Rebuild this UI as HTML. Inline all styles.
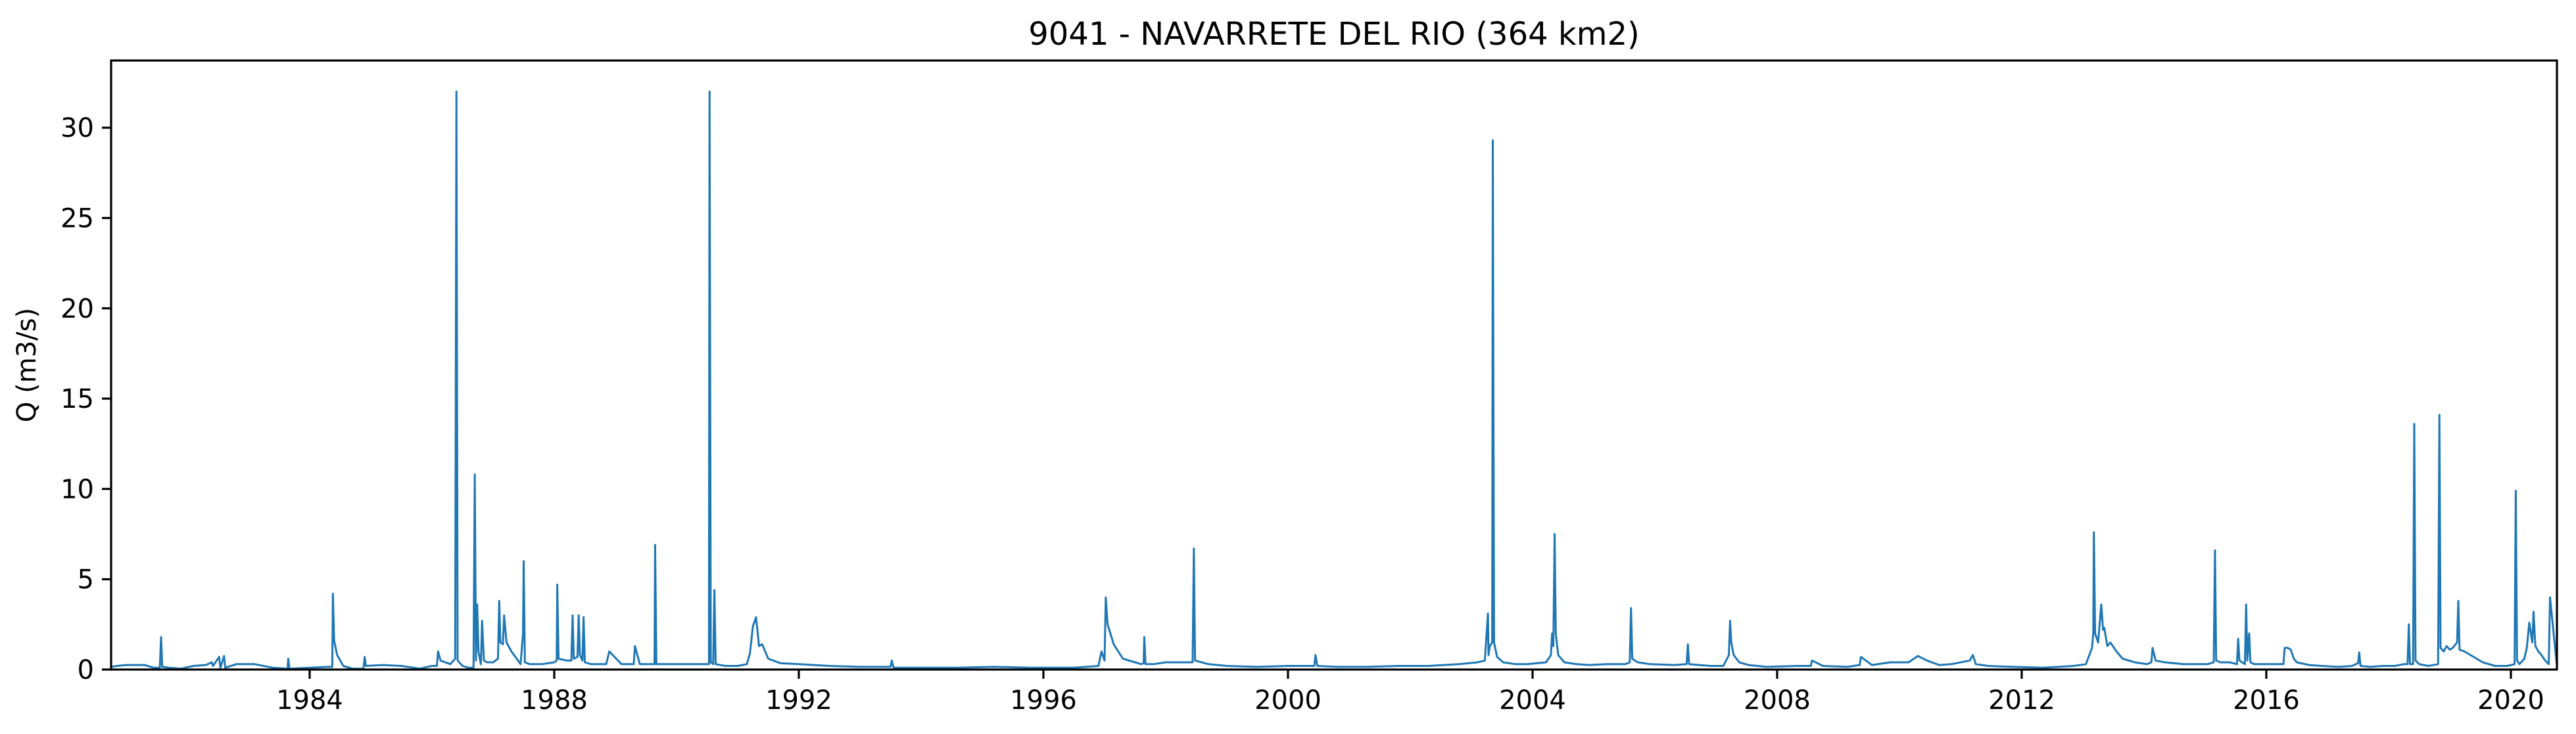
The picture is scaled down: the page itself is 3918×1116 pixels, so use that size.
<!DOCTYPE html>
<html><head><meta charset="utf-8">
<style>
html,body{margin:0;padding:0;background:#fff;}
svg{display:block;font-family:"DejaVu Sans","Liberation Sans",sans-serif;}
</style></head>
<body>
<svg id="chart" width="3918" height="1116" viewBox="0 0 3918 1116" xmlns="http://www.w3.org/2000/svg">
<rect width="3918" height="1116" fill="#fff"/>
<text x="2029" y="68" font-size="48" text-anchor="middle">9041 - NAVARRETE DEL RIO (364 km2)</text>
<text transform="translate(54,555) rotate(-90)" font-size="40" text-anchor="middle">Q (m3/s)</text>
<g id="plot"></g>
<g id="axes"></g>
</svg>
<script>
const xTicks = [1984, 1988, 1992, 1996, 2000, 2004, 2008, 2012, 2016, 2020];
const yTicks = [0, 5, 10, 15, 20, 25, 30];
const dates = [
1980.75,1980.85,1981.0,1981.3,1981.45,
1981.55,1981.57,1981.59,1981.7,1981.9,
1982.1,1982.3,1982.4,1982.42,1982.52,1982.54,1982.6,1982.62,1982.8,
1983.1,1983.4,1983.64,1983.65,1983.67,1984.0,1984.3,
1984.37,1984.38,1984.4,1984.45,1984.55,1984.7,
1984.88,1984.9,1984.92,1985.2,1985.5,1985.8,1986.0,
1986.08,1986.1,1986.14,1986.3,1986.38,1986.4,1986.42,1986.5,1986.6,
1986.68,1986.7,1986.72,1986.74,1986.76,1986.8,1986.82,1986.85,1986.9,1987.0,
1987.08,1987.1,1987.12,1987.16,1987.18,1987.22,1987.3,1987.45,
1987.49,1987.5,1987.52,1987.6,1987.8,1988.0,
1988.04,1988.05,1988.07,1988.2,
1988.28,1988.3,1988.32,1988.38,1988.4,1988.42,1988.46,1988.48,1988.5,1988.6,1988.8,
1988.85,1988.9,1989.1,1989.3,1989.32,1989.4,1989.6,
1989.64,1989.65,1989.67,1989.8,1990.0,1990.3,1990.5,
1990.53,1990.54,1990.56,1990.6,1990.62,1990.64,1990.8,1991.0,
1991.15,1991.2,1991.25,1991.3,1991.35,1991.4,1991.5,1991.7,1992.0,
1992.5,1993.0,1993.5,1993.52,1993.55,1994.0,1994.6,1995.2,1995.8,1996.5,1996.9,
1996.95,1997.0,1997.02,1997.05,1997.15,1997.3,1997.5,1997.6,
1997.64,1997.65,1997.67,1997.8,1998.0,1998.3,1998.44,
1998.46,1998.48,1998.7,1999.0,1999.5,2000.0,2000.3,2000.43,
2000.45,2000.48,2000.8,2001.3,2001.8,2002.3,2002.8,2003.1,2003.22,
2003.27,2003.28,2003.3,2003.34,2003.35,2003.37,2003.42,2003.52,2003.72,2003.92,2004.22,
2004.3,2004.32,2004.34,2004.36,2004.38,2004.42,2004.52,2004.72,2004.92,2005.22,2005.52,
2005.59,2005.61,2005.63,2005.72,2005.92,2006.32,2006.52,2006.54,2006.56,2006.72,2006.92,2007.12,
2007.21,2007.23,2007.25,2007.29,2007.38,2007.53,2007.83,2008.33,
2008.55,2008.57,2008.75,2009.15,2009.35,2009.37,2009.55,2009.85,2010.15,2010.3,2010.45,2010.65,2010.85,
2011.15,2011.2,2011.25,2011.45,2011.85,2012.35,2012.85,2013.05,2013.15,
2013.17,2013.18,2013.2,2013.25,2013.3,2013.33,2013.35,2013.4,2013.45,2013.55,2013.65,2013.85,2014.05,
2014.12,2014.14,2014.19,2014.34,2014.64,2014.84,2015.04,
2015.14,2015.16,2015.18,2015.25,2015.4,2015.52,2015.54,2015.56,
2015.65,2015.67,2015.69,2015.72,2015.74,2015.8,2015.9,2016.1,2016.28,
2016.3,2016.35,2016.4,2016.45,2016.5,2016.7,2016.9,2017.2,2017.4,2017.5,
2017.52,2017.54,2017.7,2017.9,2018.1,2018.25,2018.31,2018.33,2018.35,
2018.4,2018.42,2018.44,2018.5,2018.65,2018.81,2018.83,2018.85,2018.9,2018.95,2019.0,2019.05,2019.12,
2019.14,2019.16,2019.24,2019.34,2019.54,2019.74,2019.94,2020.06,
2020.08,2020.1,2020.14,2020.22,2020.26,2020.3,2020.35,2020.37,2020.4,2020.45,2020.5,2020.56,2020.62,2020.64,2020.75
];
const flows = [
0.15,0.2,0.25,0.25,0.1,
0.1,1.8,0.15,0.1,0.05,
0.2,0.25,0.4,0.2,0.7,0.1,0.75,0.1,0.3,
0.3,0.1,0.05,0.6,0.05,0.1,0.15,
0.15,4.2,1.6,0.8,0.2,0.05,
0.05,0.7,0.2,0.25,0.2,0.05,0.2,
0.2,1.0,0.5,0.3,0.6,32.0,0.5,0.2,0.1,
0.1,10.8,0.5,3.6,1.0,0.3,2.7,0.5,0.4,0.4,
0.6,3.8,1.5,1.4,3.0,1.5,1.0,0.3,
2.0,6.0,0.4,0.3,0.3,0.4,
0.5,4.7,0.6,0.5,
0.5,3.0,0.6,0.7,3.0,0.8,0.5,2.9,0.4,0.3,0.3,
0.3,1.0,0.3,0.3,1.3,0.3,0.3,
0.3,6.9,0.3,0.3,0.3,0.3,0.3,
0.3,32.0,0.4,0.3,4.4,0.3,0.2,0.2,
0.3,0.9,2.4,2.9,1.3,1.4,0.6,0.35,0.3,
0.2,0.15,0.15,0.5,0.1,0.1,0.1,0.15,0.1,0.1,0.2,
1.0,0.5,4.0,2.5,1.4,0.6,0.4,0.3,
0.35,1.8,0.3,0.3,0.4,0.4,0.4,
6.7,0.5,0.3,0.2,0.15,0.2,0.2,0.2,
0.8,0.2,0.15,0.15,0.2,0.2,0.3,0.4,0.5,
3.1,0.8,1.3,1.5,29.3,1.5,0.7,0.4,0.3,0.3,0.4,
0.8,2.0,1.3,7.5,2.0,0.8,0.4,0.3,0.25,0.3,0.3,
0.4,3.4,0.6,0.4,0.3,0.25,0.3,1.4,0.3,0.25,0.2,0.2,
0.8,2.7,1.5,0.8,0.4,0.25,0.15,0.2,
0.2,0.5,0.2,0.15,0.25,0.7,0.25,0.4,0.4,0.75,0.5,0.25,0.3,
0.5,0.8,0.3,0.2,0.15,0.1,0.2,0.3,1.2,
2.0,7.6,2.0,1.5,3.6,2.2,2.3,1.3,1.5,1.0,0.6,0.4,0.3,
0.4,1.2,0.5,0.4,0.3,0.3,0.3,
0.4,6.6,0.5,0.4,0.4,0.3,1.7,0.5,
0.3,3.6,0.5,2.0,0.4,0.3,0.3,0.3,0.3,
1.2,1.2,1.1,0.6,0.4,0.25,0.2,0.15,0.2,0.35,
0.95,0.2,0.15,0.2,0.2,0.3,0.3,2.5,0.3,
0.3,13.6,0.5,0.3,0.2,0.3,14.1,1.2,1.0,1.3,1.1,1.2,1.5,
3.8,1.1,1.0,0.8,0.4,0.2,0.2,0.3,
9.9,0.5,0.3,0.6,1.2,2.6,1.5,3.2,1.3,1.0,0.8,0.5,0.3,4.0,0.3
];
const NS = 'http://www.w3.org/2000/svg';
const L = 169, R = 3889, T = 92, B = 1018;
const X0 = 1980.753, X1 = 2020.753, Y0 = 0, Y1 = 33.72;
function xs(v){ return L + (v - X0) / (X1 - X0) * (R - L); }
function ys(v){ return B - (v - Y0) / (Y1 - Y0) * (B - T); }
const plot = document.getElementById('plot');
const axes = document.getElementById('axes');
const clip = document.createElementNS(NS,'clipPath');
clip.setAttribute('id','clipArea');
const cr = document.createElementNS(NS,'rect');
cr.setAttribute('x',L);cr.setAttribute('y',T);cr.setAttribute('width',R-L);cr.setAttribute('height',B-T);
clip.appendChild(cr);plot.appendChild(clip);
const n = Math.min(dates.length, flows.length);
const pts = [];
for (let i = 0; i < n; i++) pts.push(xs(dates[i]).toFixed(1)+','+ys(flows[i]).toFixed(1));
const line = document.createElementNS(NS,'polyline');


line.setAttribute('points', pts.join(' '));
line.setAttribute('fill','none');line.setAttribute('stroke','#1f77b4');line.setAttribute('stroke-width','3');
line.setAttribute('stroke-linejoin','round');line.setAttribute('clip-path','url(#clipArea)');
plot.appendChild(line);
const frame = document.createElementNS(NS,'rect');


frame.setAttribute('x',L);frame.setAttribute('y',T);frame.setAttribute('width',R-L);frame.setAttribute('height',B-T);
frame.setAttribute('fill','none');frame.setAttribute('stroke','#000');frame.setAttribute('stroke-width','3.2');
axes.appendChild(frame);
xTicks.forEach(t=>{
  const x = xs(t);
  const tk = document.createElementNS(NS,'line');
  
  
  tk.setAttribute('x1',x);tk.setAttribute('x2',x);tk.setAttribute('y1',B);tk.setAttribute('y2',B+14);
  tk.setAttribute('stroke','#000');tk.setAttribute('stroke-width','3.2');axes.appendChild(tk);
  const lb = document.createElementNS(NS,'text');
  
  
  lb.setAttribute('x',x);lb.setAttribute('y',B+60);lb.setAttribute('font-size','40');lb.setAttribute('text-anchor','middle');
  lb.textContent = String(t);axes.appendChild(lb);
});
yTicks.forEach(t=>{
  const y = ys(t);
  const tk = document.createElementNS(NS,'line');
  
  
  tk.setAttribute('x1',L-14);tk.setAttribute('x2',L);tk.setAttribute('y1',y);tk.setAttribute('y2',y);
  tk.setAttribute('stroke','#000');tk.setAttribute('stroke-width','3.2');axes.appendChild(tk);
  const lb = document.createElementNS(NS,'text');
  
  
  lb.setAttribute('x',L-26);lb.setAttribute('y',y+14);lb.setAttribute('font-size','40');lb.setAttribute('text-anchor','end');
  lb.textContent = String(t);axes.appendChild(lb);
});
</script>
</body></html>
